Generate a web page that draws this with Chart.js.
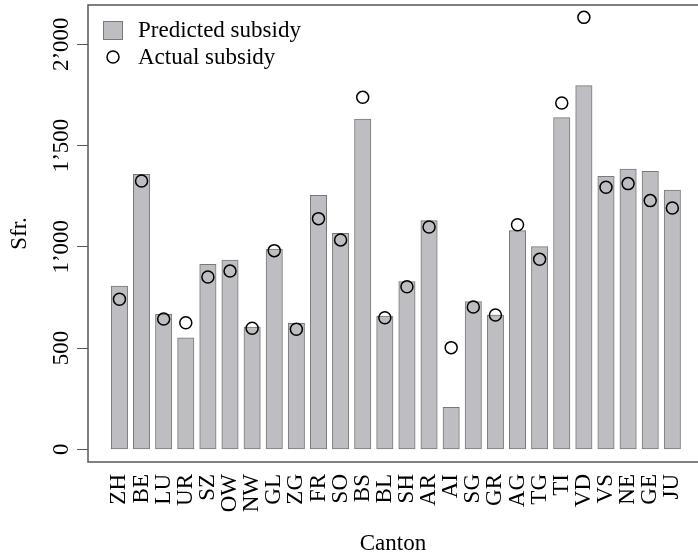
<!DOCTYPE html>
<html>
<head>
<meta charset="utf-8">
<script src="https://cdn.jsdelivr.net/npm/chart.js@4.4.1/dist/chart.umd.min.js"></script>
<style>
  html, body { margin: 0; padding: 0; background: #fff; }
  #wrap { width: 698px; height: 558px; }
</style>
</head>
<body>
<div id="wrap"><canvas id="c" width="698" height="558"></canvas></div>
<script>
// Subsidy per canton, Sfr.
const cantons = ['ZH','BE','LU','UR','SZ','OW','NW','GL','ZG','FR','SO','BS','BL','SH','AR','AI','SG','GR','AG','TG','TI','VD','VS','NE','GE','JU'];
const predicted = [806,1358,667,551,913,935,604,989,622,1254,1067,1631,658,828,1129,207,729,663,1080,1001,1638,1796,1348,1384,1373,1280];
const actual = [741,1325,643,625,851,880,598,981,593,1139,1034,1738,650,803,1098,502,703,663,1109,938,1710,2133,1294,1312,1228,1192];
const yTicks = [0, 500, 1000, 1500, 2000];

const FONT = 'Liberation Serif, Times New Roman, serif';
const BAR_FILL = 'rgb(190,190,194)';
const BAR_EDGE = 'rgb(120,120,120)';
const FRAME = 'rgb(85,85,85)';

Chart.defaults.font.family = FONT;
Chart.defaults.font.size = 23;
Chart.defaults.color = '#000';

function fmt(v) {
  return String(v).replace(/\B(?=(\d{3})+(?!\d))/g, '\u2019');
}

// Box around the plotting region (left, top, bottom)
const framePlugin = {
  id: 'frame',
  afterDraw(chart) {
    const {ctx, chartArea: a} = chart;
    ctx.save();
    ctx.strokeStyle = FRAME;
    ctx.lineWidth = 1.5;
    ctx.beginPath();
    ctx.moveTo(chart.width, a.top);
    ctx.lineTo(a.left, a.top);
    ctx.lineTo(a.left, a.bottom);
    ctx.lineTo(chart.width, a.bottom);
    ctx.stroke();
    ctx.restore();
  }
};

// Legend in the top-left corner of the plot
const legendPlugin = {
  id: 'cornerLegend',
  afterDraw(chart) {
    const {ctx, chartArea: a} = chart;
    const ds = chart.data.datasets;
    const x0 = a.left + 15;
    ctx.save();
    ctx.font = '23px ' + FONT;
    ctx.textBaseline = 'alphabetic';
    ctx.textAlign = 'left';
    // bar swatch
    ctx.fillStyle = BAR_FILL;
    ctx.fillRect(x0, a.top + 16, 20, 19);
    ctx.strokeStyle = BAR_EDGE;
    ctx.lineWidth = 1;
    ctx.strokeRect(x0 + 0.5, a.top + 16.5, 19, 18);
    ctx.fillStyle = '#000';
    ctx.fillText(ds[0].label, a.left + 50, a.top + 32);
    // point swatch
    ctx.beginPath();
    ctx.arc(x0 + 10, a.top + 52, 6, 0, Math.PI * 2);
    ctx.strokeStyle = '#000';
    ctx.lineWidth = 1.5;
    ctx.stroke();
    ctx.fillText(ds[1].label, a.left + 50, a.top + 59);
    ctx.restore();
  }
};

new Chart(document.getElementById('c'), {
  type: 'bar',
  data: {
    datasets: [
      {
        label: 'Predicted subsidy',
        data: cantons.map((c, i) => ({x: i + 1, y: predicted[i]})),
        backgroundColor: BAR_FILL,
        borderColor: BAR_EDGE,
        borderWidth: 1,
        borderSkipped: false,
        barThickness: 16.4,
        order: 2
      },
      {
        type: 'line',
        label: 'Actual subsidy',
        data: cantons.map((c, i) => ({x: i + 1, y: actual[i]})),
        showLine: false,
        pointStyle: 'circle',
        pointRadius: 6,
        pointBorderWidth: 1.5,
        pointBorderColor: '#000',
        pointBackgroundColor: 'rgba(0,0,0,0)',
        order: 1
      }
    ]
  },
  options: {
    responsive: false,
    animation: false,
    devicePixelRatio: 1,
    layout: {padding: {top: 5, right: 0, bottom: 0, left: 0}, autoPadding: false},
    plugins: {
      legend: {display: false},
      tooltip: {enabled: false}
    },
    scales: {
      x: {
        type: 'linear',
        position: 'bottom',
        min: 0.109,
        max: 26.63,
        afterBuildTicks: (s) => { s.ticks = cantons.map((c, i) => ({value: i + 1})); },
        afterFit: (s) => { s.height = 96; s.paddingLeft = 0; s.paddingRight = 0; },
        grid: {display: false, drawTicks: false},
        border: {display: false},
        ticks: {
          autoSkip: false,
          minRotation: 90,
          maxRotation: 90,
          padding: 12,
          callback: (v) => cantons[v - 1]
        },
        title: {display: true, text: 'Canton', padding: {top: 4, bottom: 0}}
      },
      y: {
        type: 'linear',
        min: -62.7,
        max: 2194,
        afterBuildTicks: (s) => { s.ticks = yTicks.map(v => ({value: v})); },
        afterFit: (s) => { s.width = 88; s.paddingTop = 0; s.paddingBottom = 0; },
        grid: {
          display: true,
          drawOnChartArea: false,
          drawTicks: true,
          tickLength: 11,
          color: FRAME,
          lineWidth: 1
        },
        border: {display: false},
        ticks: {
          minRotation: 90,
          maxRotation: 90,
          crossAlign: 'center',
          padding: -12,
          callback: (v) => fmt(v)
        },
        title: {display: true, text: 'Sfr.', padding: {top: 6, bottom: 0}}
      }
    }
  },
  plugins: [framePlugin, legendPlugin]
});
</script>
</body>
</html>
